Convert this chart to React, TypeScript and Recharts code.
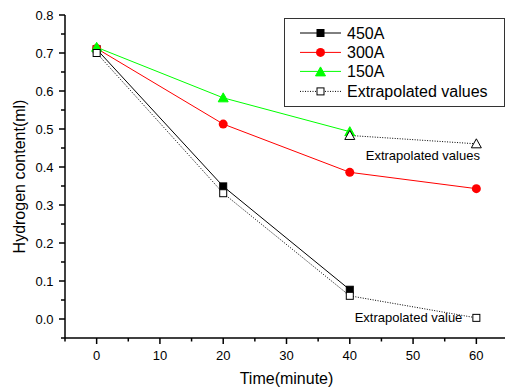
import React from "react"
import { LineChart, Line, XAxis, YAxis, Legend, LabelList } from "recharts"

const FONT = '"Liberation Sans", Arial, sans-serif'

// measured values, time in minutes
const times = [0, 20, 40, 60]
const amp450 = [0.71, 0.349, 0.077, null]
const amp300 = [0.712, 0.513, 0.386, 0.343]
const amp150 = [0.715, 0.582, 0.493, null]
const extrapolated = [0.7, 0.331, 0.061, 0.003]
const extrapolated150 = [null, null, 0.483, 0.461]

const xTicks = [-5, 0, 5, 10, 15, 20, 25, 30, 35, 40, 45, 50, 55, 60, 65]
const yTicks = [-0.05, 0, 0.05, 0.1, 0.15, 0.2, 0.25, 0.3, 0.35, 0.4, 0.45, 0.5, 0.55, 0.6, 0.65, 0.7, 0.75, 0.8]
const legendNames = ["450A", "300A", "150A", "Extrapolated values"]

const data = times.map((t, i) => ({
  time: t,
  amp450: amp450[i],
  amp300: amp300[i],
  amp150: amp150[i],
  extrapolated: extrapolated[i],
  extrapolated150: extrapolated150[i],
}))

const Square = ({ cx, cy, fill }: any) => (
  <rect x={cx - 3.5} y={cy - 3.5} width={7} height={7} fill={fill} stroke="#000" strokeWidth={1} />
)
const Circle = ({ cx, cy }: any) => <circle cx={cx} cy={cy} r={4.5} fill="#ff0000" />
const Triangle = ({ cx, cy, fill, stroke }: any) => (
  <polygon points={`${cx},${cy - 5} ${cx - 5},${cy + 4} ${cx + 5},${cy + 4}`} fill={fill} stroke={stroke} strokeWidth={1} />
)

const dotOf = (Shape: any, extra: any) => (props: any) => {
  const { cx, cy, index } = props
  if (cx == null || cy == null || props.value == null) return <g key={index} />
  return <Shape key={index} cx={cx} cy={cy} {...extra} />
}

const XTick = ({ x, y, payload }: any) => {
  const v = payload.value
  const major = v % 10 === 0
  return (
    <g>
      <line x1={x} x2={x} y1={y} y2={y + (major ? 6 : 3.5)} stroke="#000" strokeWidth={1.5} />
      {major && (
        <text x={x} y={y + 21.5} textAnchor="middle" fontSize={13} fontFamily={FONT} fill="#000">
          {v}
        </text>
      )}
    </g>
  )
}

const YTick = ({ x, y, payload }: any) => {
  const v = payload.value
  const major = Math.round(v * 100) % 10 === 0
  return (
    <g>
      <line x1={x} x2={x - (major ? 6 : 4)} y1={y} y2={y} stroke="#000" strokeWidth={1.5} />
      {major && (
        <text x={x - 11.5} y={y + 4.6} textAnchor="end" fontSize={13} fontFamily={FONT} fill="#000">
          {v.toFixed(1)}
        </text>
      )}
    </g>
  )
}

const renderLegend = () => {
  const rows = [15, 34.4, 53.4, 73.4]
  return (
    <div style={{ width: 221, height: 89, border: "1px solid #333", boxSizing: "border-box", background: "#fff" }}>
      <svg width={219} height={87} style={{ display: "block" }}>
        {legendNames.map((name, i) => {
          const y = rows[i] - 1
          const color = i === 1 ? "#ff0000" : i === 2 ? "#00ff00" : "#000"
          return (
            <g key={name}>
              <line x1={15} x2={56} y1={y} y2={y} stroke={color} strokeWidth={1} strokeDasharray={i === 3 ? "1 1.5" : undefined} />
              {i === 0 && <Square cx={35.5} cy={y} fill="#000" />}
              {i === 1 && <Circle cx={35.5} cy={y} />}
              {i === 2 && <Triangle cx={35.5} cy={y + 0.5} fill="#00ff00" stroke="#00ff00" />}
              {i === 3 && <Square cx={35.5} cy={y} fill="#fff" />}
              <text x={62} y={y + 5.7} fontSize={16} fontFamily={FONT} fill="#000">
                {name}
              </text>
            </g>
          )
        })}
      </svg>
    </div>
  )
}

const noteAt = (idx: number, label: string, dx: number, dy: number, anchor: string) => (props: any) => {
  const { x, y, index } = props
  if (index !== idx || x == null || y == null) return null
  return (
    <text x={x + dx} y={y + dy} textAnchor={anchor} fontSize={13} fontFamily={FONT} fill="#000">
      {label}
    </text>
  )
}

export default function App() {
  return (
    <div style={{ position: "absolute", left: 0, top: 0, width: 505, height: 392, overflow: "hidden", background: "#fff" }}>
      <LineChart width={520} height={392} data={data} margin={{ top: 15, right: 12, bottom: 0, left: 0 }}>
        <XAxis
          dataKey="time"
          type="number"
          domain={[-5, 65]}
          ticks={xTicks}
          interval={0}
          tickSize={0}
          tickMargin={0}
          tickLine={false}
          tick={<XTick />}
          height={54}
          axisLine={{ stroke: "#000", strokeWidth: 1.5 }}
          label={{
            content: ({ viewBox }: any) => (
              <text x={viewBox.x + viewBox.width / 2} y={383.5} textAnchor="middle" fontSize={16} fontFamily={FONT} fill="#000">
                Time(minute)
              </text>
            ),
          }}
        />
        <YAxis
          type="number"
          domain={[-0.05, 0.8]}
          ticks={yTicks}
          interval={0}
          allowDataOverflow
          tickSize={0}
          tickMargin={0}
          tickLine={false}
          tick={<YTick />}
          width={65}
          axisLine={{ stroke: "#000", strokeWidth: 1.5 }}
          label={{
            content: ({ viewBox }: any) => {
              const cy = viewBox.y + viewBox.height / 2
              return (
                <text x={24.8} y={cy} transform={`rotate(-90 24.8 ${cy})`} textAnchor="middle" fontSize={16} fontFamily={FONT} fill="#000">
                  Hydrogen content(ml)
                </text>
              )
            },
          }}
        />
        <Legend
          content={renderLegend}
          verticalAlign="middle"
          align="center"
          wrapperStyle={{ left: 284, top: 18, width: 221, height: 89 }}
        />
        <Line dataKey="amp450" name="450A" stroke="#000" strokeWidth={1} dot={dotOf(Square, { fill: "#000" })} isAnimationActive={false} />
        <Line dataKey="amp300" name="300A" stroke="#ff0000" strokeWidth={1} dot={dotOf(Circle, {})} isAnimationActive={false} />
        <Line dataKey="amp150" name="150A" stroke="#00ff00" strokeWidth={1} dot={dotOf(Triangle, { fill: "#00ff00", stroke: "#00ff00" })} isAnimationActive={false} />
        <Line
          dataKey="extrapolated"
          name="Extrapolated values"
          stroke="#000"
          strokeWidth={1}
          strokeDasharray="1 1.5"
          dot={dotOf(Square, { fill: "#fff" })}
          isAnimationActive={false}
        >
          <LabelList dataKey="extrapolated" content={noteAt(3, "Extrapolated value", -14, 4, "end")} />
        </Line>
        <Line
          dataKey="extrapolated150"
          name="Extrapolated 150A"
          legendType="none"
          stroke="#000"
          strokeWidth={1}
          strokeDasharray="1 1.5"
          dot={dotOf(Triangle, { fill: "#fff", stroke: "#000" })}
          isAnimationActive={false}
        >
          <LabelList dataKey="extrapolated150" content={noteAt(3, "Extrapolated values", -53.5, 16, "middle")} />
        </Line>
      </LineChart>
    </div>
  )
}
